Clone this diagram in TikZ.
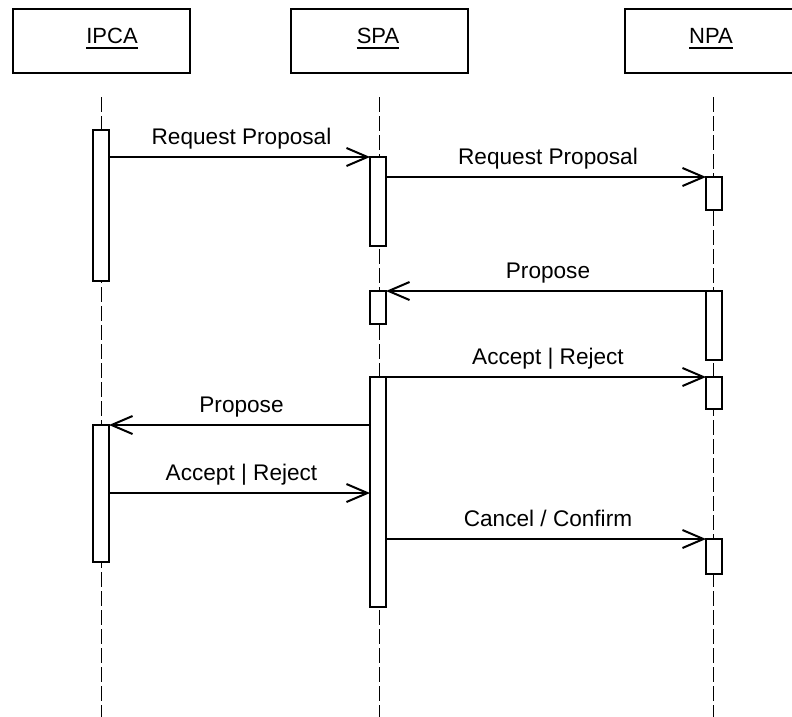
\documentclass[tikz,border=0pt]{standalone}
\usepackage{fontspec}
\setmainfont{Liberation Sans}
\usetikzlibrary{arrows.meta}
\begin{document}
\begin{tikzpicture}[x=1pt,y=-1pt,
  head/.style={draw, line width=2pt, minimum width=177pt, minimum height=64pt, inner sep=0pt, outer sep=0pt},
  headtext/.style={anchor=base, inner sep=0pt, font=\fontsize{22}{26}\selectfont},
  uline/.style={line width=1.6pt},
  lifeline/.style={line width=1pt, dash pattern=on 15pt off 4pt},
  act/.style={draw, fill=white, line width=2pt, minimum width=16pt, inner sep=0pt, outer sep=0pt, anchor=north},
  msg/.style={line width=2pt, -{Straight Barb[length=21pt,width=18pt]}},
  lbl/.style={midway, yshift=13pt, xshift=2pt, anchor=base, inner sep=0pt, font=\fontsize{22.6}{26}\selectfont}
]
\clip (0,0) rectangle (792,717);
\fill[white] (0,0) rectangle (792,717);
\coordinate (bot) at (0,717);

% header boxes
\node[head] (ipca) at (101.5,41) {};
\node[head] (spa) at (379,41) {};
\node[head] (npa) at (713.5,41) {};
\node[headtext] (ipcat) at (112,44) {IPCA};
\node[headtext] (spat) at (378,44) {SPA};
\node[headtext] (npat) at (711,44) {NPA};
\foreach \t in {ipcat,spat,npat}
  \draw[uline] ([yshift=-4pt]\t.base west) -- ([yshift=-4pt]\t.base east);

% lifelines
\draw[lifeline] ([yshift=-24pt]ipca.south) -- (ipca.south |- bot);
\draw[lifeline] ([yshift=-24pt]spa.south) -- (spa.south |- bot);
\draw[lifeline] ([yshift=-24pt]npa.south) -- (npa.south |- bot);

% activation boxes
\node[act, minimum height=151pt] (a1) at (101,130) {};
\node[act, minimum height=137pt] (a2) at (101,425) {};
\node[act, minimum height=89pt]  (b1) at (378,157) {};
\node[act, minimum height=33pt]  (b2) at (378,291) {};
\node[act, minimum height=230pt] (b3) at (378,377) {};
\node[act, minimum height=33pt]  (c1) at (714,177) {};
\node[act, minimum height=69pt]  (c2) at (714,291) {};
\node[act, minimum height=32pt]  (c3) at (714,377) {};
\node[act, minimum height=35pt]  (c4) at (714,539) {};

% messages
\draw[msg] (a1.east |- b1.north) -- (b1.north west) node[lbl] {Request Proposal};
\draw[msg] (b1.east |- c1.north) -- (c1.north west) node[lbl] {Request Proposal};
\draw[msg] (c2.north west) -- (b2.north east) node[lbl] {Propose};
\draw[msg] (b3.north east) -- (c3.north west) node[lbl] {Accept | Reject};
\draw[msg] (b3.west |- a2.north) -- (a2.north east) node[lbl] {Propose};
\coordinate (m6) at ([yshift=-68pt]a2.north east);
\draw[msg] (m6) -- (b3.west |- m6) node[lbl] {Accept | Reject};
\draw[msg] (b3.east |- c4.north) -- (c4.north west) node[lbl] {Cancel / Confirm};
\end{tikzpicture}
\end{document}
